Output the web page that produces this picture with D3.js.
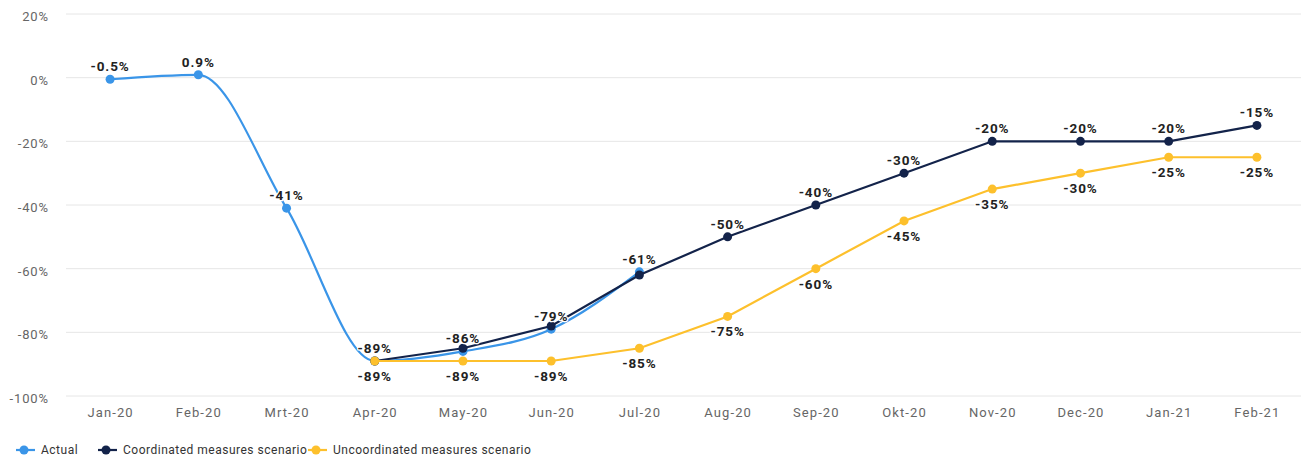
<!DOCTYPE html>
<html>
<head>
<meta charset="utf-8">
<script src="https://cdn.jsdelivr.net/npm/d3@7"></script>
<style>
  html, body { margin: 0; padding: 0; background: #fff; }
  svg { display: block; font-family: Roboto, "Noto Sans", sans-serif; }
</style>
</head>
<body>
<svg id="chart" width="1302" height="457"></svg>
<script>
const months = ["Jan-20","Feb-20","Mrt-20","Apr-20","May-20","Jun-20","Jul-20","Aug-20","Sep-20","Okt-20","Nov-20","Dec-20","Jan-21","Feb-21"];
const actual = [-0.5, 0.9, -41, -89, -86, -79, -61, null, null, null, null, null, null, null];
const coordinated = [null, null, null, -89, -85, -78, -62, -50, -40, -30, -20, -20, -20, -15];
const uncoordinated = [null, null, null, -89, -89, -89, -85, -75, -60, -45, -35, -30, -25, -25];
const yTicks = [20, 0, -20, -40, -60, -80, -100];
const seriesNames = ["Actual", "Coordinated measures scenario", "Uncoordinated measures scenario"];
const seriesColors = ["#3a95e8", "#13234a", "#fdc02c"];

const svg = d3.select("#chart");
const x = d3.scalePoint().domain(months).range([66, 1301]).padding(0.5);
const y = d3.scaleLinear().domain([-100, 20]).range([396, 14]);

const fmtPct = v => v + "%";

// gridlines
const grid = svg.append("g");
grid.selectAll("line").data(yTicks).join("line")
  .attr("x1", 66).attr("x2", 1301)
  .attr("y1", d => y(d)).attr("y2", d => y(d))
  .attr("stroke", "#e6e6e6").attr("stroke-width", 1);

// y axis
const yAxis = svg.append("g").attr("transform", "translate(49,0)")
  .call(d3.axisLeft(y).tickValues(yTicks).tickSize(0).tickPadding(0).tickFormat(fmtPct));
yAxis.select(".domain").remove();
yAxis.selectAll("text").attr("fill", "#666").attr("font-size", 13).attr("dy", "0.5em")
  .style("letter-spacing", "0.9px")
  .style("font-family", "Roboto, sans-serif");

// x axis
const xAxis = svg.append("g").attr("transform", "translate(0,405)")
  .call(d3.axisBottom(x).tickSize(0).tickPadding(0));
xAxis.select(".domain").remove();
xAxis.selectAll("text").attr("fill", "#666").attr("font-size", 13).attr("dy", "0.95em")
  .style("letter-spacing", "1.1px")
  .style("font-family", "Roboto, sans-serif");

const allSeries = [actual, coordinated, uncoordinated].map((vals, i) => ({
  name: seriesNames[i], color: seriesColors[i],
  pts: vals.map((v, j) => ({ m: months[j], v })).filter(p => p.v !== null),
  curve: i === 0 ? d3.curveMonotoneX : d3.curveLinear,
  below: i === 2
}));

const line = (s) => d3.line().x(p => x(p.m)).y(p => y(p.v)).curve(s.curve);

allSeries.forEach(s => {
  svg.append("path").datum(s.pts)
    .attr("fill", "none").attr("stroke", s.color).attr("stroke-width", 2.2)
    .attr("d", line(s));
  svg.append("g").selectAll("circle").data(s.pts).join("circle")
    .attr("cx", p => x(p.m)).attr("cy", p => y(p.v)).attr("r", 4.5)
    .attr("fill", s.color);
});

// data labels with overlap hiding
const placed = [];
const labelG = svg.append("g");
allSeries.forEach(s => {
  s.pts.forEach(p => {
    const txt = fmtPct(p.v);
    const cx = x(p.m), cy = y(p.v);
    const baseline = s.below ? cy + 20 : cy - 8;
    const t = labelG.append("text")
      .attr("x", cx).attr("y", baseline)
      .attr("text-anchor", "middle")
      .attr("font-size", 13.5).attr("font-weight", "bold")
      .style("letter-spacing", "0.9px")
      .attr("fill", "#222")
      .attr("stroke", "#fff").attr("stroke-width", 2.5).attr("paint-order", "stroke")
      .attr("stroke-linejoin", "round")
      .text(txt);
    const bb = t.node().getBBox();
    const overlap = placed.some(b => !(bb.x + bb.width < b.x || b.x + b.width < bb.x ||
                                       bb.y + bb.height < b.y || b.y + b.height < bb.y));
    if (overlap) t.remove(); else placed.push(bb);
  });
});

// legend
const legendX = [16, 98, 308];
const lg = svg.append("g").attr("transform", "translate(0,450)");
allSeries.forEach((s, i) => {
  const g = lg.append("g").attr("transform", `translate(${legendX[i]},0)`);
  g.append("line").attr("x1", 0).attr("x2", 19).attr("y1", 0).attr("y2", 0)
    .attr("stroke", s.color).attr("stroke-width", 2.2);
  g.append("circle").attr("cx", 8).attr("cy", 0).attr("r", 4.5).attr("fill", s.color);
  g.append("text").attr("x", 25).attr("y", 0).attr("dy", "0.35em")
    .attr("font-size", 12).style("letter-spacing", "0.5px")
    .attr("fill", "#333").text(s.name);
});
</script>
</body>
</html>
